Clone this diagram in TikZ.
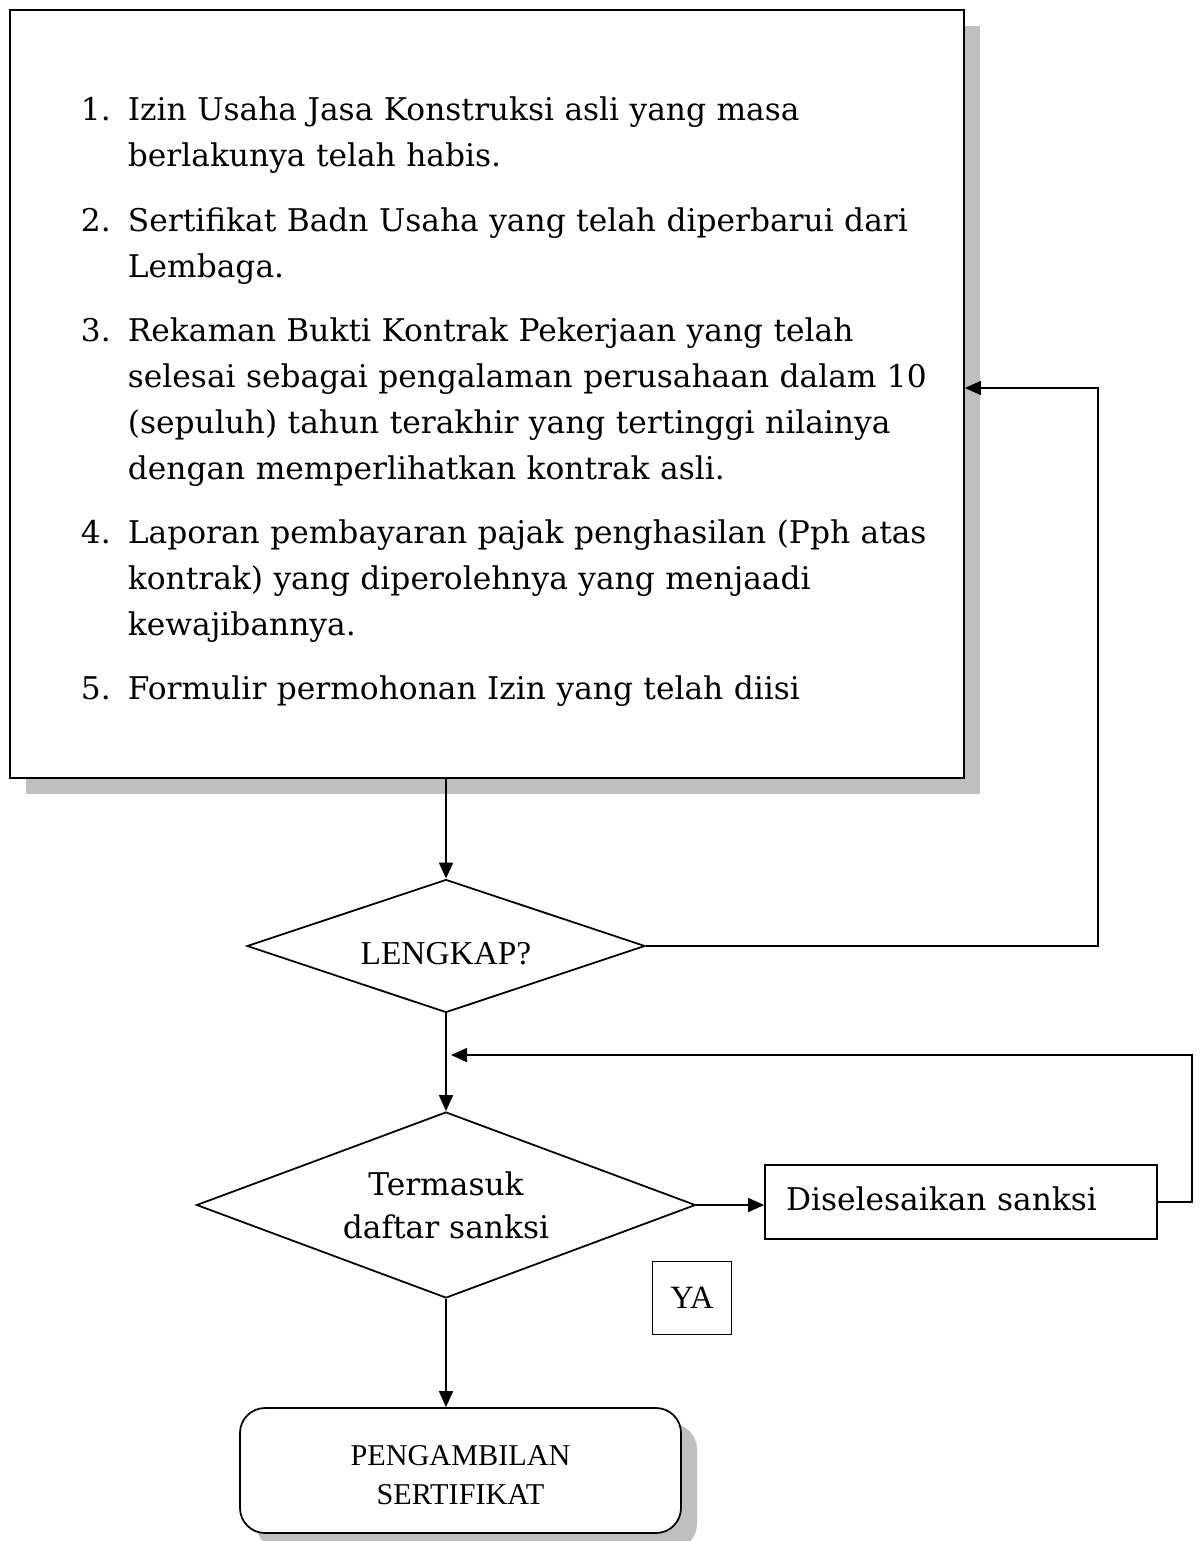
\documentclass[tikz,border=0pt]{standalone}
\usepackage{fontspec}
\setmainfont{DejaVu Serif}
\newfontfamily\capsfont{Liberation Serif}
\usepackage{enumitem}
\usetikzlibrary{shapes.geometric, arrows.meta, shadows}

\begin{document}
\begin{tikzpicture}[x=0.2mm, y=-0.2mm, line width=1pt,
	flow/.style={-{Triangle[length=3.2mm, width=2.8mm]}},
	shade/.style={drop shadow={shadow xshift=3.2mm, shadow yshift=-3.2mm, fill=black!25, opacity=1}},
	decide/.style={draw, diamond, inner sep=0pt, fill=white}]
	\useasboundingbox (0,0) rectangle (1203,1541); % Explicit bounding box
	% requirements
	\node[draw, fill=white, shade, minimum width=190.8mm, minimum height=153.6mm] (list) at (487,394) {};
	\node[anchor=north west, text width=180mm, inner sep=0pt, font=\fontsize{17.8}{26.2}\selectfont] (items) at (80,74) {%
		\begin{enumerate}[label=\arabic*., align=left, leftmargin=9.4mm, labelwidth=9.4mm, labelsep=0pt, itemsep=3.6mm, parsep=0pt, topsep=0pt]
		\item Izin Usaha Jasa Konstruksi asli yang masa\\ berlakunya telah habis.
		\item Sertifikat Badn Usaha yang telah diperbarui dari\\ Lembaga.
		\item Rekaman Bukti Kontrak Pekerjaan yang telah\\ selesai sebagai pengalaman perusahaan dalam 10\\ (sepuluh) tahun terakhir yang tertinggi nilainya\\ dengan memperlihatkan kontrak asli.
		\item Laporan pembayaran pajak penghasilan (Pph atas\\ kontrak) yang diperolehnya yang menjaadi\\ kewajibannya.
		\item Formulir permohonan Izin yang telah diisi
		\end{enumerate}};
	% decisions
	\node[decide, aspect=3, minimum width=79.6mm, minimum height=26.6mm, font=\capsfont\fontsize{19}{22}\selectfont] (lengkap) at (446,946) {\raisebox{-1.6mm}[\height][\depth]{LENGKAP?}};
	\node[decide, aspect=2.68, minimum width=99.8mm, minimum height=37.2mm, align=center, font=\fontsize{17.8}{24.5}\selectfont] (sanksi) at (446,1205) {Termasuk\\ daftar sanksi};
	\node[draw, minimum width=78.4mm, minimum height=14.8mm, text width=70mm, inner xsep=4.2mm, align=left, font=\fontsize{17.8}{22}\selectfont] (selesai) at (961,1202) {\raisebox{1.4mm}{Diselesaikan sanksi}};
	\node[draw, minimum width=15.8mm, minimum height=14.6mm, font=\capsfont\fontsize{18.5}{22}\selectfont] (ya) at (692,1298) {YA};
	\node[draw, fill=white, shade, rounded corners=5mm, minimum width=88.2mm, minimum height=25mm, font=\capsfont\fontsize{17.2}{22}\selectfont] (ambil) at (460.5,1470.5) {\raisebox{-1.4mm}[\height][\depth]{\begin{tabular}{@{}c@{}}PENGAMBILAN\\ SERTIFIKAT\end{tabular}}};
	\coordinate (back) at (1098,388);
	\coordinate (loop) at (1192,1055);
	% connectors
	\draw[flow] (list.south -| lengkap.north) -- (lengkap.north);
	\draw[flow] (lengkap.east) -| (back) -- (back -| list.east);
	\draw[flow] (lengkap.south) -- (sanksi.north);
	\draw[flow] (sanksi.east) -- (sanksi.east -| selesai.west);
	\draw[flow] (selesai.east) -| (loop) -- ([xshift=1mm]loop -| sanksi.north);
	\draw[flow] (sanksi.south) -- (sanksi.south |- ambil.north);
\end{tikzpicture}
\end{document}
